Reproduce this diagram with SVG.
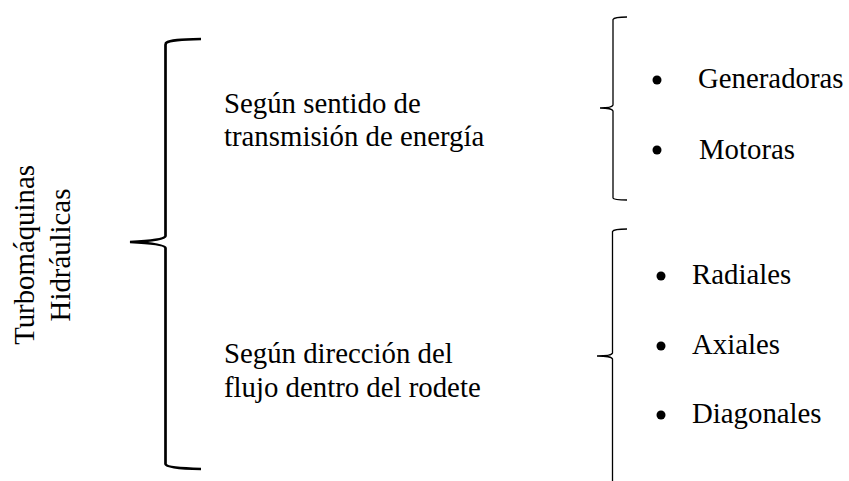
<svg xmlns="http://www.w3.org/2000/svg" width="849" height="481" viewBox="0 0 849 481">
<style>
text{font-family:"Liberation Serif","Times New Roman",serif;font-size:28.8px;fill:#000}
.big{fill:none;stroke:#000;stroke-width:2.7}
.small{fill:none;stroke:#000;stroke-width:1.3}
.dot{fill:#000}
</style>
<rect width="849" height="481" fill="#fff"/>
<g id="root">
<text transform="translate(34,255) rotate(-90)" text-anchor="middle">Turbomáquinas</text>
<text transform="translate(70,255) rotate(-90)" text-anchor="middle">Hidráulicas</text>
</g>
<g id="connectors">
<path class="big" d="M201,39 C180,39.5 170,40 166,43 L165.5,45 L165.5,236 C165,239 150,241 130,242 C150,243 165,245 165.5,248 L165.5,464 C166,467 178,468.5 201,469"/>
<path class="small" d="M627,17 C619,17 614,17.5 613,19.5 L613,105 C612.5,107 607,108 600,108 C607,108 612.5,109 613,111 L613,198 C613.5,199.5 619,200 627,200"/>
<path class="small" d="M627,229 C619,229 613.5,229.5 612.5,231.5 L612.5,353 C612,355 605,356 597,356 C605,356 612,357 612.5,359 L612.5,481"/>
</g>
<g id="group1">
<text x="224" y="113">Según sentido de</text>
<text x="224" y="146">transmisión de energía</text>
</g>
<g id="group2">
<text x="224" y="363">Según dirección del</text>
<text x="224" y="397">flujo dentro del rodete</text>
</g>
<g id="generadoras"><circle class="dot" cx="657" cy="80" r="4.5"/><text x="698" y="88">Generadoras</text></g>
<g id="motoras"><circle class="dot" cx="657" cy="150" r="4.5"/><text x="699" y="159">Motoras</text></g>
<g id="radiales"><circle class="dot" cx="661" cy="276" r="4.5"/><text x="692" y="284">Radiales</text></g>
<g id="axiales"><circle class="dot" cx="661" cy="346" r="4.5"/><text x="692" y="354">Axiales</text></g>
<g id="diagonales"><circle class="dot" cx="661" cy="415" r="4.5"/><text x="692" y="423">Diagonales</text></g>
</svg>
